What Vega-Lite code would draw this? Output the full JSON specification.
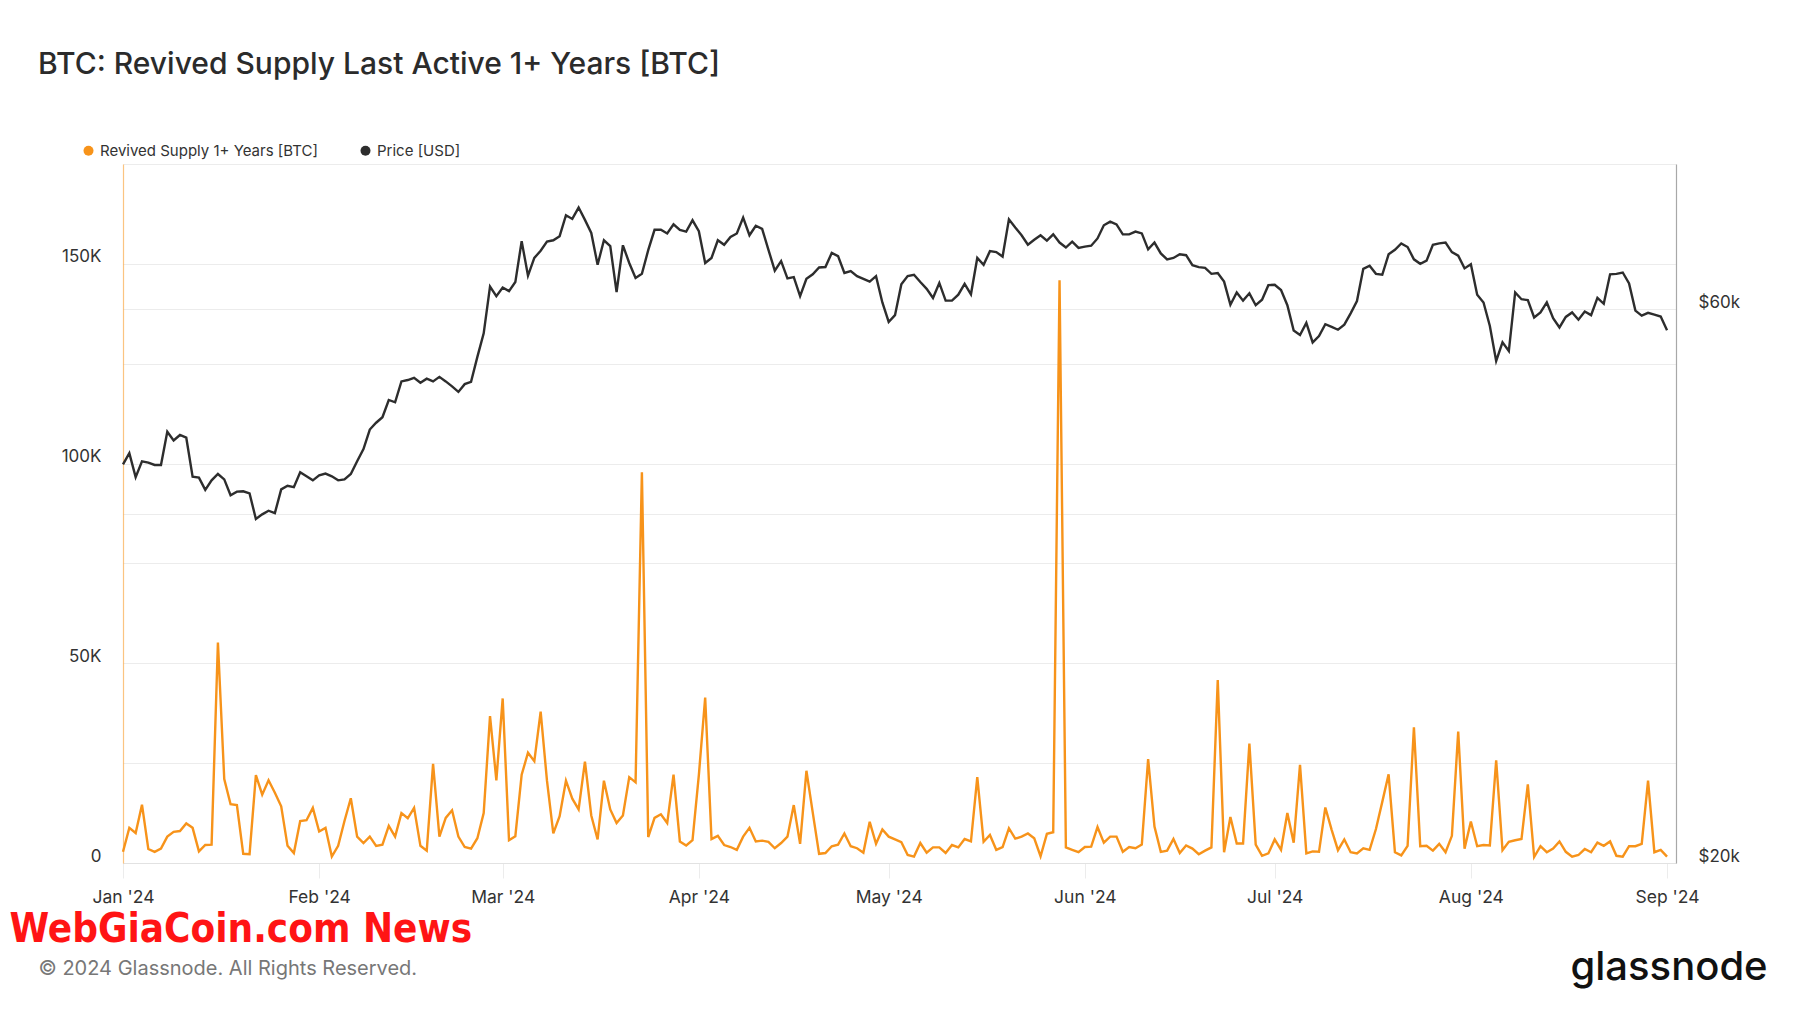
{
  "$schema": "https://vega.github.io/schema/vega-lite/v6.json",
  "width": 1553,
  "height": 699,
  "autosize": "none",
  "padding": {"left": 123, "top": 164, "right": 124, "bottom": 150},
  "background": "white",
  "config": {"font": "Inter", "view": {"stroke": null}},
  "title": {"text": "BTC: Revived Supply Last Active 1+ Years [BTC]", "anchor": "start", "frame": "group", "dx": -85, "offset": 63, "fontSize": 30, "font": "Inter", "fontWeight": 500, "color": "#2b2b2b"},
  "data": {"values": [
    {"date":"2024-01-01","supply":2800,"price":44090},{"date":"2024-01-02","supply":8800,"price":45090},{"date":"2024-01-03","supply":7500,"price":42990},{"date":"2024-01-04","supply":14600,"price":44360},{"date":"2024-01-05","supply":3500,"price":44240},{"date":"2024-01-06","supply":2800,"price":44040},{"date":"2024-01-07","supply":3600,"price":44040},{"date":"2024-01-08","supply":6600,"price":47040},{"date":"2024-01-09","supply":7800,"price":46240},{"date":"2024-01-10","supply":8000,"price":46740},{"date":"2024-01-11","supply":9900,"price":46490},{"date":"2024-01-12","supply":8800,"price":43030},{"date":"2024-01-13","supply":2900,"price":42950},{"date":"2024-01-14","supply":4500,"price":41920},{"date":"2024-01-15","supply":4600,"price":42720},{"date":"2024-01-16","supply":55200,"price":43260},{"date":"2024-01-17","supply":21000,"price":42800},{"date":"2024-01-18","supply":14700,"price":41470},{"date":"2024-01-19","supply":14500,"price":41770},{"date":"2024-01-20","supply":2300,"price":41800},{"date":"2024-01-21","supply":2200,"price":41620},{"date":"2024-01-22","supply":22000,"price":39570},{"date":"2024-01-23","supply":17100,"price":39930},{"date":"2024-01-24","supply":20700,"price":40220},{"date":"2024-01-25","supply":17600,"price":40030},{"date":"2024-01-26","supply":14200,"price":41960},{"date":"2024-01-27","supply":4300,"price":42260},{"date":"2024-01-28","supply":2500,"price":42150},{"date":"2024-01-29","supply":10500,"price":43410},{"date":"2024-01-30","supply":10700,"price":43060},{"date":"2024-01-31","supply":13800,"price":42720},
    {"date":"2024-02-01","supply":7900,"price":43140},{"date":"2024-02-02","supply":8800,"price":43300},{"date":"2024-02-03","supply":1600,"price":43060},{"date":"2024-02-04","supply":4300,"price":42720},{"date":"2024-02-05","supply":10500,"price":42800},{"date":"2024-02-06","supply":16200,"price":43260},{"date":"2024-02-07","supply":6600,"price":44360},{"date":"2024-02-08","supply":5000,"price":45450},{"date":"2024-02-09","supply":6600,"price":47250},{"date":"2024-02-10","supply":4300,"price":47890},{"date":"2024-02-11","supply":4600,"price":48410},{"date":"2024-02-12","supply":9300,"price":50100},{"date":"2024-02-13","supply":6600,"price":49870},{"date":"2024-02-14","supply":12500,"price":51980},{"date":"2024-02-15","supply":11200,"price":52120},{"date":"2024-02-16","supply":13800,"price":52350},{"date":"2024-02-17","supply":4300,"price":51840},{"date":"2024-02-18","supply":3100,"price":52260},{"date":"2024-02-19","supply":24800,"price":51980},{"date":"2024-02-20","supply":6600,"price":52450},{"date":"2024-02-21","supply":11300,"price":51980},{"date":"2024-02-22","supply":13200,"price":51470},{"date":"2024-02-23","supply":6600,"price":50910},{"date":"2024-02-24","supply":4000,"price":51700},{"date":"2024-02-25","supply":3600,"price":51930},{"date":"2024-02-26","supply":6200,"price":54570},{"date":"2024-02-27","supply":12500,"price":57180},{"date":"2024-02-28","supply":36800,"price":62740},{"date":"2024-02-29","supply":20700,"price":61560},
    {"date":"2024-03-01","supply":41200,"price":62620},{"date":"2024-03-02","supply":5700,"price":62170},{"date":"2024-03-03","supply":6700,"price":63300},{"date":"2024-03-04","supply":22100,"price":68650},{"date":"2024-03-05","supply":27600,"price":64110},{"date":"2024-03-06","supply":25500,"price":66400},{"date":"2024-03-07","supply":37900,"price":67360},{"date":"2024-03-08","supply":20600,"price":68590},{"date":"2024-03-09","supply":7400,"price":68770},{"date":"2024-03-10","supply":11700,"price":69330},{"date":"2024-03-11","supply":20600,"price":72270},{"date":"2024-03-12","supply":16100,"price":71740},{"date":"2024-03-13","supply":13400,"price":73380},{"date":"2024-03-14","supply":25400,"price":71610},{"date":"2024-03-15","supply":11900,"price":69770},{"date":"2024-03-16","supply":5900,"price":65510},{"date":"2024-03-17","supply":20600,"price":68770},{"date":"2024-03-18","supply":13400,"price":67970},{"date":"2024-03-19","supply":10000,"price":62060},{"date":"2024-03-20","supply":11900,"price":68090},{"date":"2024-03-21","supply":21500,"price":65740},{"date":"2024-03-22","supply":20200,"price":63820},{"date":"2024-03-23","supply":97800,"price":64340},{"date":"2024-03-24","supply":6500,"price":67430},{"date":"2024-03-25","supply":11300,"price":70210},{"date":"2024-03-26","supply":12200,"price":70210},{"date":"2024-03-27","supply":10000,"price":69710},{"date":"2024-03-28","supply":22100,"price":70970},{"date":"2024-03-29","supply":5400,"price":70210},{"date":"2024-03-30","supply":4400,"price":69960},{"date":"2024-03-31","supply":5700,"price":71550},
    {"date":"2024-04-01","supply":22000,"price":70020},{"date":"2024-04-02","supply":41400,"price":65740},{"date":"2024-04-03","supply":6000,"price":66400},{"date":"2024-04-04","supply":6800,"price":68770},{"date":"2024-04-05","supply":4500,"price":68160},{"date":"2024-04-06","supply":4000,"price":69210},{"date":"2024-04-07","supply":3300,"price":69710},{"date":"2024-04-08","supply":6600,"price":71930},{"date":"2024-04-09","supply":8800,"price":69460},{"date":"2024-04-10","supply":5400,"price":70780},{"date":"2024-04-11","supply":5600,"price":70340},{"date":"2024-04-12","supply":5300,"price":67480},{"date":"2024-04-13","supply":3700,"price":64740},{"date":"2024-04-14","supply":5000,"price":65980},{"date":"2024-04-15","supply":6600,"price":63760},{"date":"2024-04-16","supply":14500,"price":63930},{"date":"2024-04-17","supply":4800,"price":61560},{"date":"2024-04-18","supply":23100,"price":63700},{"date":"2024-04-19","supply":12600,"price":64280},{"date":"2024-04-20","supply":2300,"price":65150},{"date":"2024-04-21","supply":2500,"price":65210},{"date":"2024-04-22","supply":4200,"price":67060},{"date":"2024-04-23","supply":4600,"price":66640},{"date":"2024-04-24","supply":7400,"price":64450},{"date":"2024-04-25","supply":4200,"price":64690},{"date":"2024-04-26","supply":3700,"price":64050},{"date":"2024-04-27","supply":2600,"price":63700},{"date":"2024-04-28","supply":10300,"price":63360},{"date":"2024-04-29","supply":4800,"price":64050},{"date":"2024-04-30","supply":8400,"price":60790},
    {"date":"2024-05-01","supply":6600,"price":58480},{"date":"2024-05-02","supply":5900,"price":59280},{"date":"2024-05-03","supply":5200,"price":63020},{"date":"2024-05-04","supply":2000,"price":64050},{"date":"2024-05-05","supply":1600,"price":64220},{"date":"2024-05-06","supply":5000,"price":63300},{"date":"2024-05-07","supply":2600,"price":62450},{"date":"2024-05-08","supply":3900,"price":61340},{"date":"2024-05-09","supply":3900,"price":63190},{"date":"2024-05-10","supply":2500,"price":61010},{"date":"2024-05-11","supply":4500,"price":61010},{"date":"2024-05-12","supply":3900,"price":61730},{"date":"2024-05-13","supply":6000,"price":63080},{"date":"2024-05-14","supply":5400,"price":61780},{"date":"2024-05-15","supply":21500,"price":66400},{"date":"2024-05-16","supply":5300,"price":65510},{"date":"2024-05-17","supply":7000,"price":67300},{"date":"2024-05-18","supply":3300,"price":67180},{"date":"2024-05-19","supply":4000,"price":66580},{"date":"2024-05-20","supply":8700,"price":71680},{"date":"2024-05-21","supply":6100,"price":70530},{"date":"2024-05-22","supply":6600,"price":69460},{"date":"2024-05-23","supply":7400,"price":68160},{"date":"2024-05-24","supply":6200,"price":68830},{"date":"2024-05-25","supply":1700,"price":69460},{"date":"2024-05-26","supply":7300,"price":68710},{"date":"2024-05-27","supply":7700,"price":69580},{"date":"2024-05-28","supply":145900,"price":68460},{"date":"2024-05-29","supply":3900,"price":67790},{"date":"2024-05-30","supply":3300,"price":68590},{"date":"2024-05-31","supply":2700,"price":67730},
    {"date":"2024-06-01","supply":4000,"price":67910},{"date":"2024-06-02","supply":4100,"price":68030},{"date":"2024-06-03","supply":9000,"price":69020},{"date":"2024-06-04","supply":5100,"price":70850},{"date":"2024-06-05","supply":6600,"price":71360},{"date":"2024-06-06","supply":6600,"price":70970},{"date":"2024-06-07","supply":2800,"price":69580},{"date":"2024-06-08","supply":4000,"price":69580},{"date":"2024-06-09","supply":3700,"price":69960},{"date":"2024-06-10","supply":4600,"price":69710},{"date":"2024-06-11","supply":26000,"price":67540},{"date":"2024-06-12","supply":9100,"price":68460},{"date":"2024-06-13","supply":2800,"price":67000},{"date":"2024-06-14","supply":3100,"price":66220},{"date":"2024-06-15","supply":6000,"price":66400},{"date":"2024-06-16","supply":2500,"price":66880},{"date":"2024-06-17","supply":4400,"price":66760},{"date":"2024-06-18","supply":3600,"price":65450},{"date":"2024-06-19","supply":2200,"price":65210},{"date":"2024-06-20","supply":3100,"price":65100},{"date":"2024-06-21","supply":3900,"price":64340},{"date":"2024-06-22","supply":45800,"price":64450},{"date":"2024-06-23","supply":2700,"price":63360},{"date":"2024-06-24","supply":11500,"price":60520},{"date":"2024-06-25","supply":4900,"price":62010},{"date":"2024-06-26","supply":4900,"price":61010},{"date":"2024-06-27","supply":29900,"price":61900},{"date":"2024-06-28","supply":4600,"price":60460},{"date":"2024-06-29","supply":1800,"price":61120},{"date":"2024-06-30","supply":2400,"price":62910},
    {"date":"2024-07-01","supply":5900,"price":62960},{"date":"2024-07-02","supply":3300,"price":62300},{"date":"2024-07-03","supply":12500,"price":60460},{"date":"2024-07-04","supply":5100,"price":57490},{"date":"2024-07-05","supply":24600,"price":56980},{"date":"2024-07-06","supply":2400,"price":58380},{"date":"2024-07-07","supply":2900,"price":56160},{"date":"2024-07-08","supply":2800,"price":56870},{"date":"2024-07-09","supply":13900,"price":58220},{"date":"2024-07-10","supply":8300,"price":57910},{"date":"2024-07-11","supply":3200,"price":57590},{"date":"2024-07-12","supply":5900,"price":58170},{"date":"2024-07-13","supply":2700,"price":59490},{"date":"2024-07-14","supply":2400,"price":60960},{"date":"2024-07-15","supply":3700,"price":64980},{"date":"2024-07-16","supply":3300,"price":65390},{"date":"2024-07-17","supply":8500,"price":64340},{"date":"2024-07-18","supply":15300,"price":64220},{"date":"2024-07-19","supply":22200,"price":66880},{"date":"2024-07-20","supply":2700,"price":67480},{"date":"2024-07-21","supply":1900,"price":68340},{"date":"2024-07-22","supply":4300,"price":67850},{"date":"2024-07-23","supply":34000,"price":66220},{"date":"2024-07-24","supply":4200,"price":65630},{"date":"2024-07-25","supply":4300,"price":66040},{"date":"2024-07-26","supply":3100,"price":68160},{"date":"2024-07-27","supply":4800,"price":68340},{"date":"2024-07-28","supply":2700,"price":68460},{"date":"2024-07-29","supply":6800,"price":67180},{"date":"2024-07-30","supply":32900,"price":66700},{"date":"2024-07-31","supply":3600,"price":65040},
    {"date":"2024-08-01","supply":10400,"price":65570},{"date":"2024-08-02","supply":4200,"price":61730},{"date":"2024-08-03","supply":4500,"price":60790},{"date":"2024-08-04","supply":4400,"price":58010},{"date":"2024-08-05","supply":25700,"price":54130},{"date":"2024-08-06","supply":3200,"price":56160},{"date":"2024-08-07","supply":5300,"price":55210},{"date":"2024-08-08","supply":5700,"price":62010},{"date":"2024-08-09","supply":6000,"price":61180},{"date":"2024-08-10","supply":19700,"price":61070},{"date":"2024-08-11","supply":1500,"price":59010},{"date":"2024-08-12","supply":4200,"price":59600},{"date":"2024-08-13","supply":2700,"price":60790},{"date":"2024-08-14","supply":3600,"price":58910},{"date":"2024-08-15","supply":5400,"price":57850},{"date":"2024-08-16","supply":2800,"price":59070},{"date":"2024-08-17","supply":1600,"price":59600},{"date":"2024-08-18","supply":2000,"price":58750},{"date":"2024-08-19","supply":3500,"price":59710},{"date":"2024-08-20","supply":2700,"price":59280},{"date":"2024-08-21","supply":5100,"price":61340},{"date":"2024-08-22","supply":4300,"price":60630},{"date":"2024-08-23","supply":5400,"price":64280},{"date":"2024-08-24","supply":1800,"price":64340},{"date":"2024-08-25","supply":1600,"price":64510},{"date":"2024-08-26","supply":4200,"price":63130},{"date":"2024-08-27","supply":4200,"price":59820},{"date":"2024-08-28","supply":4800,"price":59230},{"date":"2024-08-29","supply":20600,"price":59550},{"date":"2024-08-30","supply":2700,"price":59330},{"date":"2024-08-31","supply":3300,"price":59120},
    {"date":"2024-09-01","supply":1600,"price":57540}
  ]},
  "layer": [
    {
      "mark": {"type": "line", "strokeWidth": 2.4, "clip": false},
      "encoding": {
        "x": {
          "field": "date", "type": "temporal",
          "scale": {"type": "utc", "domain": [{"year": 2024, "month": 1, "date": 1, "utc": true}, {"year": 2024, "month": 9, "date": 2, "hours": 10, "utc": true}]},
          "axis": {
            "values": [
              {"year": 2024, "month": 1, "date": 1, "utc": true},
              {"year": 2024, "month": 2, "date": 1, "utc": true},
              {"year": 2024, "month": 3, "date": 1, "utc": true},
              {"year": 2024, "month": 4, "date": 1, "utc": true},
              {"year": 2024, "month": 5, "date": 1, "utc": true},
              {"year": 2024, "month": 6, "date": 1, "utc": true},
              {"year": 2024, "month": 7, "date": 1, "utc": true},
              {"year": 2024, "month": 8, "date": 1, "utc": true},
              {"year": 2024, "month": 9, "date": 1, "utc": true}
            ],
            "format": "%b '%y",
            "grid": false,
            "ticks": true, "tickSize": 15, "tickColor": "#ececec", "tickWidth": 1,
            "domainColor": "#e2e2e2", "domainWidth": 1,
            "labelFontSize": 17.5, "labelColor": "#333333", "labelPadding": 10, "labelFont": "Inter",
            "labelOverlap": false, "labelFlush": false, "labelBound": false,
            "title": "© 2024 Glassnode. All Rights Reserved.",
            "titleX": -85, "titleY": 105, "titleAlign": "left", "titleAnchor": null, "titleBaseline": "middle",
            "titleFont": "Inter", "titleFontSize": 20, "titleFontWeight": "normal", "titleColor": "#777777"
          }
        },
        "y": {
          "field": "supply", "type": "quantitative",
          "scale": {"domain": [0, 175000], "nice": false, "zero": true},
          "axis": {
            "orient": "left",
            "values": [0, 25000, 50000, 75000, 100000, 125000, 150000, 175000],
            "labelExpr": "datum.value % 50000 == 0 ? (datum.value == 0 ? '0' : (datum.value / 1000) + 'K') : ''",
            "grid": true, "gridColor": "#ececec", "gridWidth": 1,
            "ticks": false,
            "domainColor": "#f7931a", "domainOpacity": 0.55, "domainWidth": 1.2,
            "labelFontSize": 17, "labelColor": "#333333", "labelPadding": 22, "labelFont": "Inter",
            "labelBaseline": "alphabetic", "labelOffset": -2, "labelOverlap": false, "labelBound": false,
            "title": "WebGiaCoin.com News",
            "titleAngle": 0, "titleX": -114, "titleY": 765, "titleAlign": "left", "titleBaseline": "middle",
            "titleFont": "DejaVu Sans Condensed", "titleFontWeight": "bold", "titleFontSize": 40, "titleColor": "#ff1414"
          }
        },
        "color": {
          "datum": "Revived Supply 1+ Years [BTC]",
          "type": "nominal",
          "scale": {"domain": ["Revived Supply 1+ Years [BTC]", "Price [USD]"], "range": ["#f7931a", "#2d2d2d"]},
          "legend": {
            "orient": "none", "legendX": -42, "legendY": -21, "direction": "horizontal",
            "title": null, "symbolType": "circle", "symbolSize": 100, "symbolStrokeWidth": 0,
            "labelFontSize": 15, "labelColor": "#333333", "labelFont": "Inter", "labelLimit": 0, "columnPadding": 40, "labelOffset": 4,
            "encode": {"symbols": {"update": {"fill": {"scale": "color", "field": "value"}, "strokeWidth": {"value": 0}}}}
          }
        }
      }
    },
    {
      "mark": {"type": "line", "strokeWidth": 2.4, "clip": false},
      "encoding": {
        "x": {"field": "date", "type": "temporal"},
        "y": {
          "field": "price", "type": "quantitative",
          "scale": {"type": "log", "domain": [20000, 80000], "nice": false},
          "axis": {
            "orient": "right",
            "values": [20000, 40000, 60000],
            "labelExpr": "datum.value == 40000 ? '' : '$' + (datum.value / 1000) + 'k'",
            "grid": true, "gridColor": "#ececec", "gridWidth": 1,
            "ticks": false,
            "domainColor": "#a8a8a8", "domainWidth": 1.2,
            "labelFontSize": 17, "labelColor": "#333333", "labelPadding": 22, "labelFont": "Inter",
            "labelBaseline": "alphabetic", "labelOffset": -2, "labelOverlap": false, "labelBound": false,
            "title": "glassnode",
            "titleAngle": 0, "titleX": -106, "titleY": 803, "titleAlign": "left", "titleBaseline": "middle",
            "titleFont": "Inter", "titleFontWeight": 500, "titleFontSize": 40, "titleColor": "#111111"
          }
        },
        "color": {"datum": "Price [USD]", "type": "nominal"}
      }
    }
  ],
  "resolve": {"scale": {"y": "independent"}}
}
